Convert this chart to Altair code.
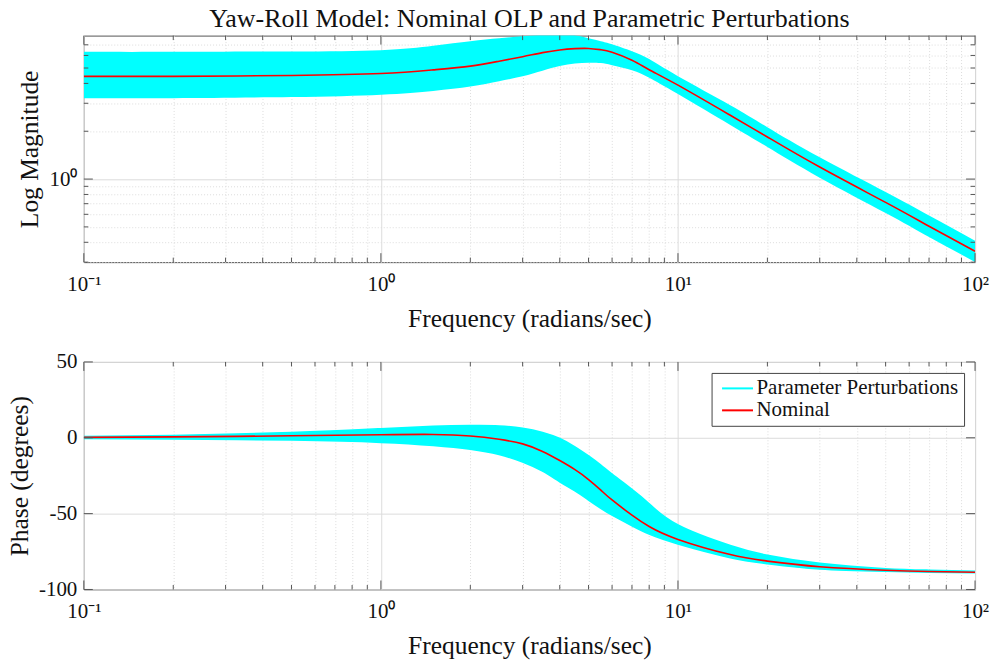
import altair as alt
import pandas as pd

# ---------------- data ----------------
freq = [0.1, 0.2, 0.5, 1, 1.5, 2, 2.5, 3, 3.5, 4, 4.5, 5, 5.5, 6, 7, 8, 10, 15, 20, 30, 50, 70, 100]

mag_nominal = [4.43, 4.43, 4.49, 4.62, 4.87, 5.14, 5.52, 5.89, 6.25, 6.50, 6.62, 6.64, 6.52, 6.29,
               5.60, 4.88, 3.90, 2.52, 1.84, 1.19, 0.713, 0.505, 0.351]
mag_upper = [6.32, 6.32, 6.36, 6.48, 6.91, 7.38, 7.71, 7.93, 8.11, 8.17, 8.05, 7.71, 7.38, 7.06,
             6.38, 5.69, 4.44, 2.92, 2.12, 1.37, 0.828, 0.589, 0.409]
mag_lower = [3.23, 3.23, 3.28, 3.40, 3.59, 3.82, 4.13, 4.44, 4.81, 5.14, 5.33, 5.40, 5.37, 5.21,
             4.85, 4.35, 3.43, 2.19, 1.59, 1.02, 0.611, 0.432, 0.301]

ph_nominal = [0.3, 0.6, 1.3, 2.0, 2.2, 1.2, -1, -4, -9, -15, -21, -27.5, -34.5, -41,
              -51, -58.5, -67, -77, -81.3, -85, -87.3, -88.1, -88.6]
ph_upper = [0.8, 1.5, 3.5, 6, 7.5, 8, 7.8, 6.3, 3.5, -0.5, -6, -12, -18, -24,
            -34, -43.5, -57.5, -71, -77.5, -82.8, -86.3, -87.3, -88]
ph_lower = [-0.5, -0.7, -1.5, -3, -5, -7.5, -11, -16, -22, -29, -35, -41, -46.5, -51,
            -58, -63.5, -70, -79, -83, -86.5, -88, -88.6, -89]

x_major = [0.1, 1, 10, 100]
x_minor = [0.2, 0.3, 0.4, 0.5, 0.6, 0.7, 0.8, 0.9, 2, 3, 4, 5, 6, 7, 8, 9, 20, 30, 40, 50, 60, 70, 80, 90]
mag_major = [1]
mag_minor = [0.3, 0.4, 0.5, 0.6, 0.7, 0.8, 0.9, 2, 3, 4, 5, 6, 7]
ph_ticks = [-100, -50, 0, 50]

series_names = ["Parameter Perturbations", "Nominal"]
title_text = "Yaw-Roll Model: Nominal OLP and Parametric Perturbations"

# ---------------- style ----------------
FONT = "Liberation Serif"
W, H1, H2 = 893, 227, 228
CYAN, RED = "#00ffff", "#ff0000"
FRAME = "#555555"
GRID = "#dcdcdc"
TXT = "#111111"
INTERP = "natural"

band = pd.DataFrame({"freq": freq, "mag_lo": mag_lower, "mag_hi": mag_upper,
                     "ph_lo": ph_lower, "ph_hi": ph_upper})
lines = pd.concat([
    pd.DataFrame({"freq": freq, "mag": mag_upper, "ph": ph_upper, "curve": "up", "series": series_names[0]}),
    pd.DataFrame({"freq": freq, "mag": mag_lower, "ph": ph_lower, "curve": "lo", "series": series_names[0]}),
    pd.DataFrame({"freq": freq, "mag": mag_nominal, "ph": ph_nominal, "curve": "nom", "series": series_names[1]}),
])
nominal = lines[lines.curve == "nom"]

xscale = alt.Scale(type="log", domain=[0.1, 100], nice=False)
mscale = alt.Scale(type="log", domain=[0.3, 8], nice=False)
pscale = alt.Scale(domain=[-100, 50], nice=False)

major_test = "datum.value == 0.1 || datum.value == 1 || datum.value == 10 || datum.value == 100"
common = dict(labelOverlap=False, ticks=False, domain=False, grid=True, gridColor=GRID,
              labelFont=FONT, labelFontSize=21, labelColor=TXT,
              titleFont=FONT, titleFontSize=25.5, titleFontWeight="normal", titleColor=TXT)
x_axis = alt.Axis(
    values=x_major + x_minor,
    labelExpr="datum.value == 0.1 ? '10⁻¹' : datum.value == 1 ? '10⁰' : datum.value == 10 ? '10¹' : datum.value == 100 ? '10²' : ''",
    labelFlush=False, labelPadding=11, titlePadding=12,
    gridDash={"condition": {"test": major_test, "value": []}, "value": [1, 2]},
    **common,
)
m_axis = alt.Axis(
    values=mag_major + mag_minor,
    labelExpr="datum.value == 1 ? '10⁰' : ''",
    labelPadding=7, titlePadding=6,
    gridDash={"condition": {"test": "datum.value == 1", "value": []}, "value": [1, 2]},
    **common,
)
p_axis = alt.Axis(
    values=ph_ticks, labelExpr="toString(datum.value)",
    labelPadding=7, titlePadding=6,
    **common,
)

XT = "Frequency (radians/sec)"


def X(field):
    return alt.X(f"{field}:Q", scale=xscale, axis=x_axis, title=XT)


def inner_ticks(yscale, yaxis, ytitle, y_major, y_minor, h):
    layers = []
    for vals, L in ((x_major, 9), (x_minor, 4.5)):
        base = alt.Chart(pd.DataFrame({"freq": vals})).mark_rule(color=FRAME, strokeWidth=1)
        layers.append(base.encode(x=X("freq"), y=alt.value(0), y2=alt.value(L)))
        layers.append(base.encode(x=X("freq"), y=alt.value(h), y2=alt.value(h - L)))
    for vals, L in ((y_major, 9), (y_minor, 4.5)):
        if not vals:
            continue
        base = alt.Chart(pd.DataFrame({"v": vals})).mark_rule(color=FRAME, strokeWidth=1)
        yenc = alt.Y("v:Q", scale=yscale, axis=yaxis, title=ytitle)
        layers.append(base.encode(y=yenc, x=alt.value(0), x2=alt.value(L)))
        layers.append(base.encode(y=yenc, x=alt.value(W), x2=alt.value(W - L)))
    return layers


# ---------------- top panel: magnitude ----------------
MT = "Log Magnitude"
top_band = alt.Chart(band).mark_area(color=CYAN, opacity=1, interpolate=INTERP, clip=True).encode(
    x=X("freq"),
    y=alt.Y("mag_lo:Q", scale=mscale, axis=m_axis, title=MT),
    y2="mag_hi:Q",
)
top_nom = alt.Chart(nominal).mark_line(color=RED, strokeWidth=1.6, interpolate=INTERP, clip=True).encode(
    x=X("freq"),
    y=alt.Y("mag:Q", scale=mscale, axis=m_axis, title=MT),
)
top = alt.layer(top_band, top_nom, *inner_ticks(mscale, m_axis, MT, mag_major, mag_minor, H1)).properties(
    width=W, height=H1,
    title=alt.TitleParams(title_text, font=FONT, fontSize=26, fontWeight="normal", color=TXT,
                          anchor="middle", offset=2, frame="group"),
)

# ---------------- bottom panel: phase ----------------
PT = "Phase (degrees)"
color_scale = alt.Scale(domain=series_names, range=[CYAN, RED])
legend = alt.Legend(
    orient="none", legendX=629, legendY=338, title=None,
    symbolType="M-1,0L5.2,0", symbolSize=100, symbolStrokeWidth=2,
    labelFont=FONT, labelFontSize=21, labelColor=TXT, labelOffset=19,
    strokeColor="#444", fillColor="white", padding=5, rowPadding=0, cornerRadius=0,
    labelLimit=400,
)
bot_band = alt.Chart(band).mark_area(color=CYAN, opacity=1, interpolate=INTERP, clip=True).encode(
    x=X("freq"),
    y=alt.Y("ph_lo:Q", scale=pscale, axis=p_axis, title=PT),
    y2="ph_hi:Q",
)
bot_lines = alt.Chart(lines).mark_line(strokeWidth=1.6, interpolate=INTERP, clip=True).encode(
    x=X("freq"),
    y=alt.Y("ph:Q", scale=pscale, axis=p_axis, title=PT),
    color=alt.Color("series:N", scale=color_scale, legend=legend, sort=series_names),
    detail="curve:N",
    order=alt.Order("curve:N"),
)
bottom = alt.layer(bot_band, bot_lines, *inner_ticks(pscale, p_axis, PT, ph_ticks, [], H2)).properties(
    width=W, height=H2,
)

chart = alt.vconcat(top, bottom, spacing=100, bounds="flush").properties(
    padding={"left": 7, "top": 4, "right": 5, "bottom": 5},
    background="white",
).configure_view(stroke=FRAME, strokeWidth=1)

chart.save("out.html", embed_options={"renderer": "svg", "actions": False})
